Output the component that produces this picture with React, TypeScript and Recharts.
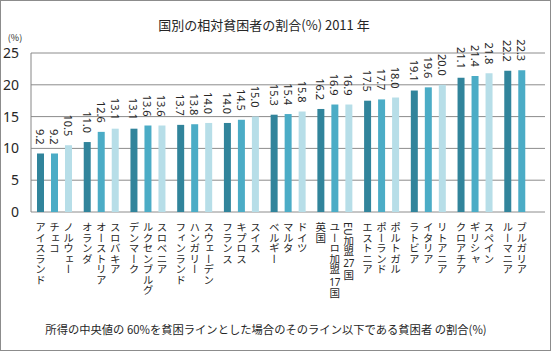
import { BarChart, Bar, XAxis, YAxis, CartesianGrid, LabelList } from "recharts";

const countries = [
  "アイスランド", "チェコ", "ノルウェー",
  "オランダ", "オーストリア", "スロバキア",
  "デンマーク", "ルクセンブルグ", "スロベニア",
  "フィンランド", "ハンガリー", "スウェーデン",
  "フランス", "キプロス", "スイス",
  "ベルギー", "マルタ", "ドイツ",
  "英国", "ユーロ加盟17国", "EU加盟27国",
  "エストニア", "ポーランド", "ポルトガル",
  "ラトビア", "イタリア", "リトアニア",
  "クロアチア", "ギリシャ", "スペイン",
  "ルーマニア", "ブルガリア",
];

const rates = [
  9.2, 9.2, 10.5,
  11.0, 12.6, 13.1,
  13.1, 13.6, 13.6,
  13.7, 13.8, 14.0,
  14.0, 14.5, 15.0,
  15.3, 15.4, 15.8,
  16.2, 16.9, 16.9,
  17.5, 17.7, 18.0,
  19.1, 19.6, 20.0,
  21.1, 21.4, 21.8,
  22.2, 22.3,
];

const yTicks = [0, 5, 10, 15, 20, 25];

const title = "国別の相対貧困者の割合(%) 2011 年";
const caption = "所得の中央値の 60%を貧困ラインとした場合のそのライン以下である貧困者 の割合(%)";

// three bar shades, repeating every three countries
const shades = ["#31849B", "#4BACC6", "#B7DEE8"];
const keys = ["a", "b", "c"];

const rows = Array.from({ length: Math.ceil(countries.length / 3) }, (_, g) => {
  const row: any = { group: String(g) };
  keys.forEach((k, j) => {
    const i = g * 3 + j;
    row[k] = i < rates.length ? rates[i] : null;
    row[k + "Name"] = i < countries.length ? countries[i] : null;
  });
  return row;
});

const jp = "'Noto Sans CJK JP', 'Noto Sans', sans-serif";
const num = "'Noto Sans', 'Liberation Sans', sans-serif";

const box = (p: any) => {
  const v = p.viewBox && p.viewBox.width !== undefined ? p.viewBox : p;
  return { x: Number(v.x), y: Number(v.y), w: Number(v.width), h: Number(v.height) };
};

const ValueLabel = (p: any) => {
  if (p.value == null) return null;
  const { x, y, w } = box(p);
  const cx = x + w / 2;
  const ty = y - 9;
  return (
    <text
      x={cx}
      y={ty}
      transform={`rotate(90 ${cx} ${ty})`}
      textAnchor="end"
      dominantBaseline="central"
      fontSize={11}
      fontFamily={num}
      fill="#262626"
    >
      {Number(p.value).toFixed(1)}
    </text>
  );
};

// vertical country names: Japanese runs set in vertical writing, digit runs kept horizontal
const NameLabel = (p: any) => {
  if (!p.value) return null;
  const { x, y, w, h } = box(p);
  const cx = x + w / 2;
  const fs = 10.5;
  const parts: string[] = String(p.value).match(/[0-9]+|[^0-9]+/g) || [];
  let cur = y + h + 10;
  return (
    <g>
      {parts.map((s, i) => {
        const top = cur;
        if (/^[0-9]+$/.test(s)) {
          cur += fs + 2;
          return (
            <text key={i} x={cx} y={top + fs / 2 + 1} textAnchor="middle" dominantBaseline="central" fontSize={10} fontFamily={num} fill="#262626">
              {s}
            </text>
          );
        }
        let adv = 0;
        for (const c of s) adv += /[A-Za-z]/.test(c) ? fs * 0.62 : fs;
        cur += adv + 1;
        return (
          <text key={i} x={cx} y={top} fontSize={fs} fontFamily={jp} fill="#262626" style={{ writingMode: "vertical-rl" } as any}>
            {s}
          </text>
        );
      })}
    </g>
  );
};

const GroupTick = (p: any) => {
  const { x, y, payload, index, width, visibleTicksCount } = p;
  const half = payload && payload.offset ? payload.offset : width / visibleTicksCount / 2;
  return (
    <g>
      <line x1={x - half} x2={x - half} y1={y} y2={y + 5} stroke="#868686" />
      {index === visibleTicksCount - 1 && (
        <line x1={x + half} x2={x + half} y1={y} y2={y + 5} stroke="#868686" />
      )}
    </g>
  );
};

export default function App() {
  return (
    <div style={{ position: "absolute", left: 0, top: 0, width: 551, height: 351, background: "#fff" }}>
      <BarChart
        width={551}
        height={351}
        data={rows}
        margin={{ top: 53, right: 6, bottom: 139, left: 0 }}
        barSize={7}
        barGap={7}
      >
        <CartesianGrid vertical={false} stroke="#8c8c8c" />
        <XAxis
          dataKey="group"
          height={0}
          axisLine={{ stroke: "#868686" }}
          tickLine={false}
          tickSize={0}
          tickMargin={0}
          interval={0}
          tick={<GroupTick />}
        />
        <YAxis
          domain={[0, 25]}
          ticks={yTicks}
          width={31}
          axisLine={{ stroke: "#868686" }}
          tickLine={false}
          tickSize={0}
          tickMargin={12}
          tick={{ fill: "#262626", fontSize: 14, fontFamily: num }}
        />
        {keys.map((k, j) => (
          <Bar key={k} dataKey={k} fill={shades[j]} isAnimationActive={false}>
            <LabelList dataKey={k} content={<ValueLabel />} />
            <LabelList dataKey={k + "Name"} content={<NameLabel />} />
          </Bar>
        ))}
        <text x={264} y={30} textAnchor="middle" fontSize={13} fontFamily={jp} fill="#262626">
          {title}
        </text>
        <text x={15} y={41} textAnchor="middle" fontSize={9} fontFamily={jp} fill="#262626">
          (%)
        </text>
        <text x={266} y={334} textAnchor="middle" fontSize={11.3} fontFamily={jp} fill="#262626">
          {caption}
        </text>
      </BarChart>
      <div style={{ position: "absolute", inset: 0, border: "1px solid #8c8c8c", boxSizing: "border-box", pointerEvents: "none" }} />
    </div>
  );
}
